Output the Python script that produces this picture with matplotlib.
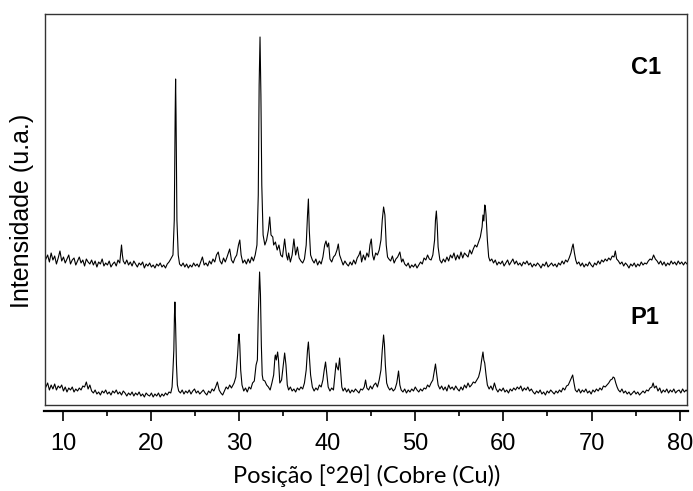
import numpy as np
import matplotlib
matplotlib.use("Agg")
import matplotlib.pyplot as plt

# XRD patterns: (2theta, intensity in a.u.)
c1_pattern = [
    (8.0, 146), (8.2, 150), (8.4, 143), (8.6, 152), (8.8, 145), (9.0, 149), (9.2, 141), (9.4, 147),
    (9.6, 154), (9.8, 144), (10.0, 148), (10.2, 142), (10.4, 146), (10.6, 150), (10.8, 141), (11.0, 145),
    (11.2, 147), (11.4, 140), (11.6, 144), (11.8, 148), (12.0, 142), (12.2, 145), (12.4, 139), (12.6, 146),
    (12.8, 143), (13.0, 141), (13.2, 145), (13.4, 140), (13.6, 144), (13.8, 138), (14.0, 143), (14.2, 141),
    (14.4, 146), (14.6, 139), (14.8, 142), (15.0, 140), (15.2, 144), (15.4, 138), (15.6, 141), (15.8, 143),
    (16.0, 139), (16.2, 145), (16.4, 142), (16.5, 151), (16.6, 160), (16.7, 150), (16.8, 144), (17.0, 141),
    (17.2, 145), (17.4, 140), (17.6, 143), (17.8, 139), (18.0, 144), (18.2, 141), (18.4, 138), (18.6, 142),
    (18.8, 140), (19.0, 143), (19.2, 137), (19.4, 141), (19.6, 139), (19.8, 142), (20.0, 138), (20.2, 140),
    (20.4, 137), (20.6, 141), (20.8, 139), (21.0, 142), (21.2, 138), (21.4, 140), (21.6, 137), (21.8, 141),
    (22.0, 143), (22.2, 146), (22.45, 150), (22.6, 185), (22.7, 290), (22.75, 326), (22.8, 290), (22.9, 185),
    (23.05, 150), (23.2, 141), (23.4, 139), (23.6, 142), (23.8, 138), (24.0, 141), (24.2, 137), (24.4, 140),
    (24.6, 138), (24.8, 142), (25.0, 139), (25.2, 141), (25.4, 138), (25.6, 143), (25.8, 148), (26.0, 140),
    (26.2, 142), (26.4, 139), (26.6, 144), (26.8, 141), (27.0, 146), (27.2, 143), (27.4, 150), (27.6, 153),
    (27.8, 144), (28.0, 141), (28.2, 147), (28.4, 143), (28.6, 148), (28.9, 156), (29.1, 145), (29.3, 142),
    (29.5, 147), (29.7, 150), (29.9, 160), (30.05, 165), (30.2, 150), (30.4, 142), (30.6, 145), (30.8, 141),
    (31.0, 146), (31.2, 142), (31.4, 148), (31.6, 144), (31.8, 150), (32.0, 160), (32.15, 210), (32.25, 320),
    (32.35, 368), (32.45, 310), (32.55, 220), (32.7, 170), (32.9, 160), (33.1, 165), (33.3, 175), (33.45, 188),
    (33.6, 170), (33.8, 168), (33.9, 160), (34.1, 163), (34.3, 155), (34.5, 160), (34.7, 150), (34.9, 148),
    (35.15, 166), (35.35, 150), (35.5, 145), (35.6, 152), (35.8, 143), (36.0, 150), (36.2, 166), (36.4, 150),
    (36.6, 158), (36.8, 147), (37.0, 144), (37.2, 142), (37.4, 146), (37.6, 160), (37.75, 190), (37.85, 206),
    (37.95, 175), (38.1, 150), (38.3, 145), (38.5, 142), (38.7, 146), (38.9, 140), (39.1, 144), (39.3, 141),
    (39.5, 148), (39.7, 160), (39.85, 164), (40.0, 158), (40.15, 162), (40.3, 146), (40.5, 143), (40.7, 148),
    (40.9, 150), (41.1, 155), (41.25, 161), (41.4, 150), (41.6, 145), (41.8, 140), (42.0, 144), (42.2, 141),
    (42.4, 139), (42.6, 143), (42.8, 140), (43.0, 145), (43.2, 141), (43.4, 147), (43.6, 150), (43.75, 154),
    (43.9, 143), (44.1, 150), (44.3, 145), (44.5, 152), (44.7, 148), (44.85, 160), (45.0, 166), (45.15, 150),
    (45.3, 145), (45.5, 152), (45.7, 150), (45.9, 155), (46.1, 165), (46.25, 185), (46.4, 198), (46.55, 190),
    (46.7, 160), (46.85, 148), (47.0, 146), (47.2, 144), (47.4, 149), (47.6, 142), (47.8, 146), (48.0, 148),
    (48.25, 153), (48.45, 143), (48.6, 146), (48.8, 141), (49.0, 139), (49.2, 142), (49.4, 137), (49.6, 140),
    (49.8, 138), (50.0, 141), (50.2, 137), (50.4, 140), (50.6, 143), (50.8, 141), (51.0, 147), (51.2, 145),
    (51.4, 150), (51.6, 146), (51.8, 145), (52.0, 150), (52.2, 165), (52.3, 185), (52.4, 194), (52.5, 180),
    (52.6, 158), (52.8, 145), (53.0, 142), (53.2, 146), (53.4, 143), (53.6, 148), (53.8, 144), (54.0, 150),
    (54.2, 147), (54.4, 152), (54.6, 145), (54.8, 150), (55.0, 146), (55.2, 153), (55.4, 147), (55.6, 152),
    (55.8, 150), (56.0, 148), (56.2, 155), (56.4, 151), (56.6, 156), (56.8, 160), (57.0, 158), (57.2, 163),
    (57.4, 168), (57.6, 178), (57.7, 190), (57.8, 184), (57.9, 200), (57.96, 199), (58.05, 190), (58.2, 165),
    (58.35, 148), (58.5, 144), (58.7, 146), (58.9, 142), (59.1, 145), (59.3, 140), (59.5, 143), (59.7, 141),
    (59.9, 144), (60.1, 139), (60.3, 142), (60.5, 145), (60.7, 140), (60.9, 143), (61.1, 146), (61.3, 141),
    (61.5, 144), (61.7, 140), (61.9, 142), (62.1, 139), (62.3, 143), (62.5, 141), (62.7, 144), (62.9, 140),
    (63.1, 142), (63.3, 138), (63.5, 141), (63.7, 139), (63.9, 142), (64.1, 140), (64.3, 137), (64.5, 141),
    (64.7, 139), (64.9, 143), (65.1, 138), (65.3, 140), (65.5, 142), (65.7, 139), (65.9, 141), (66.1, 138),
    (66.3, 142), (66.5, 140), (66.7, 144), (66.9, 141), (67.1, 145), (67.3, 143), (67.5, 147), (67.7, 152),
    (67.85, 158), (67.95, 161), (68.1, 152), (68.25, 145), (68.4, 141), (68.6, 143), (68.8, 139), (69.0, 142),
    (69.2, 138), (69.4, 141), (69.6, 139), (69.8, 143), (70.0, 140), (70.2, 138), (70.4, 142), (70.6, 140),
    (70.8, 144), (71.0, 141), (71.2, 145), (71.4, 143), (71.6, 146), (71.8, 144), (72.0, 147), (72.2, 145),
    (72.4, 149), (72.6, 148), (72.75, 154), (72.9, 146), (73.1, 144), (73.3, 141), (73.5, 143), (73.7, 139),
    (73.9, 142), (74.1, 140), (74.3, 137), (74.5, 141), (74.7, 139), (74.9, 142), (75.1, 138), (75.3, 141),
    (75.5, 139), (75.7, 143), (75.9, 140), (76.1, 142), (76.3, 141), (76.5, 144), (76.7, 146), (76.9, 145),
    (77.1, 150), (77.3, 146), (77.5, 144), (77.7, 141), (77.9, 144), (78.1, 140), (78.3, 143), (78.5, 139),
    (78.7, 142), (78.9, 140), (79.1, 144), (79.3, 141), (79.5, 143), (79.7, 140), (79.9, 144), (80.1, 141),
    (80.3, 143), (80.5, 140), (80.7, 143), (80.9, 141),
]

p1_pattern = [
    (8.0, 18), (8.2, 22), (8.4, 15), (8.6, 20), (8.8, 16), (9.0, 21), (9.2, 15), (9.4, 19),
    (9.6, 17), (9.8, 20), (10.0, 14), (10.2, 18), (10.4, 13), (10.6, 17), (10.8, 15), (11.0, 18),
    (11.2, 13), (11.4, 16), (11.6, 14), (11.8, 17), (12.0, 15), (12.2, 19), (12.4, 18), (12.6, 23),
    (12.8, 16), (13.0, 20), (13.2, 14), (13.4, 12), (13.6, 15), (13.8, 11), (14.0, 13), (14.2, 10),
    (14.4, 14), (14.6, 12), (14.8, 15), (15.0, 11), (15.2, 13), (15.4, 10), (15.6, 14), (15.8, 12),
    (16.0, 15), (16.2, 11), (16.4, 13), (16.6, 10), (16.8, 14), (17.0, 12), (17.2, 9), (17.4, 12),
    (17.6, 10), (17.8, 13), (18.0, 9), (18.2, 12), (18.4, 10), (18.6, 13), (18.8, 9), (19.0, 11),
    (19.2, 8), (19.4, 12), (19.6, 10), (19.8, 9), (20.0, 12), (20.2, 8), (20.4, 11), (20.6, 9),
    (20.8, 12), (21.0, 8), (21.2, 11), (21.4, 9), (21.6, 12), (21.8, 10), (22.0, 13), (22.2, 12),
    (22.35, 18), (22.45, 35), (22.55, 55), (22.62, 90), (22.67, 103), (22.75, 80), (22.85, 40), (22.95, 20),
    (23.1, 14), (23.3, 12), (23.5, 15), (23.7, 11), (23.9, 14), (24.1, 12), (24.3, 15), (24.5, 11),
    (24.7, 14), (24.9, 16), (25.1, 12), (25.3, 14), (25.5, 11), (25.7, 13), (25.9, 15), (26.1, 12),
    (26.3, 10), (26.5, 14), (26.7, 12), (26.9, 16), (27.1, 14), (27.3, 18), (27.5, 23), (27.7, 15),
    (27.9, 12), (28.1, 10), (28.3, 14), (28.5, 18), (28.7, 16), (28.9, 20), (29.1, 17), (29.4, 22),
    (29.6, 28), (29.8, 50), (29.9, 66), (29.97, 71), (30.05, 60), (30.15, 35), (30.3, 20), (30.5, 14),
    (30.7, 17), (30.9, 13), (31.1, 18), (31.3, 16), (31.5, 22), (31.7, 24), (31.9, 40), (32.05, 45),
    (32.15, 90), (32.25, 120), (32.3, 133), (32.4, 110), (32.5, 60), (32.6, 30), (32.7, 25), (32.9, 24),
    (33.1, 20), (33.3, 18), (33.5, 15), (33.7, 22), (33.9, 30), (34.05, 48), (34.1, 50), (34.2, 45),
    (34.35, 53), (34.45, 45), (34.6, 22), (34.8, 25), (35.0, 40), (35.15, 52), (35.3, 40), (35.45, 20),
    (35.6, 15), (35.8, 18), (36.0, 14), (36.2, 16), (36.4, 13), (36.6, 17), (36.8, 15), (37.0, 18),
    (37.2, 16), (37.4, 22), (37.6, 35), (37.75, 55), (37.85, 63), (37.95, 50), (38.1, 30), (38.3, 18),
    (38.5, 14), (38.7, 17), (38.9, 15), (39.1, 20), (39.3, 18), (39.5, 25), (39.65, 35), (39.8, 43),
    (39.95, 30), (40.1, 18), (40.3, 14), (40.5, 17), (40.7, 15), (40.85, 28), (41.0, 42), (41.1, 38),
    (41.25, 35), (41.4, 47), (41.5, 35), (41.65, 18), (41.8, 14), (42.0, 17), (42.2, 13), (42.4, 16),
    (42.6, 12), (42.8, 15), (43.0, 13), (43.2, 16), (43.4, 14), (43.6, 12), (43.8, 16), (44.0, 15),
    (44.2, 18), (44.35, 25), (44.5, 17), (44.7, 15), (44.9, 19), (45.1, 16), (45.3, 20), (45.5, 22),
    (45.7, 18), (45.9, 25), (46.1, 35), (46.25, 55), (46.4, 70), (46.5, 60), (46.6, 40), (46.75, 22),
    (46.9, 18), (47.1, 15), (47.3, 17), (47.5, 14), (47.7, 16), (47.9, 22), (48.1, 34), (48.25, 20),
    (48.4, 15), (48.6, 13), (48.8, 16), (49.0, 12), (49.2, 15), (49.4, 13), (49.6, 16), (49.8, 14),
    (50.0, 18), (50.2, 15), (50.4, 13), (50.6, 16), (50.8, 14), (51.0, 17), (51.2, 16), (51.4, 20),
    (51.6, 18), (51.8, 22), (52.0, 25), (52.15, 33), (52.3, 41), (52.45, 30), (52.6, 20), (52.8, 16),
    (53.0, 19), (53.2, 15), (53.4, 18), (53.6, 14), (53.8, 20), (54.0, 16), (54.2, 18), (54.4, 15),
    (54.6, 19), (54.8, 16), (55.0, 14), (55.2, 18), (55.4, 15), (55.6, 20), (55.8, 17), (56.0, 22),
    (56.2, 18), (56.4, 20), (56.6, 23), (56.8, 22), (57.0, 25), (57.2, 28), (57.4, 35), (57.55, 45),
    (57.7, 53), (57.8, 45), (57.9, 42), (58.05, 30), (58.2, 20), (58.4, 16), (58.6, 19), (58.8, 15),
    (59.0, 22), (59.2, 16), (59.4, 13), (59.6, 16), (59.8, 14), (60.0, 17), (60.2, 13), (60.4, 15),
    (60.6, 12), (60.8, 16), (61.0, 14), (61.2, 17), (61.4, 15), (61.6, 18), (61.8, 16), (62.0, 19),
    (62.2, 14), (62.4, 17), (62.6, 15), (62.8, 18), (63.0, 14), (63.2, 16), (63.4, 13), (63.6, 11),
    (63.8, 14), (64.0, 12), (64.2, 15), (64.4, 11), (64.6, 13), (64.8, 10), (65.0, 14), (65.2, 12),
    (65.4, 15), (65.6, 13), (65.8, 11), (66.0, 14), (66.2, 12), (66.4, 15), (66.6, 13), (66.8, 17),
    (67.0, 15), (67.2, 19), (67.4, 20), (67.6, 24), (67.75, 27), (67.9, 30), (68.05, 22), (68.2, 15),
    (68.4, 13), (68.6, 16), (68.8, 12), (69.0, 15), (69.2, 13), (69.4, 16), (69.6, 12), (69.8, 14),
    (70.0, 11), (70.2, 15), (70.4, 13), (70.6, 16), (70.8, 14), (71.0, 17), (71.2, 15), (71.4, 19),
    (71.6, 18), (71.8, 20), (72.0, 22), (72.2, 25), (72.4, 26), (72.5, 28), (72.65, 27), (72.8, 22),
    (72.95, 18), (73.1, 15), (73.3, 13), (73.5, 16), (73.7, 12), (73.9, 14), (74.1, 11), (74.3, 13),
    (74.5, 10), (74.7, 12), (74.9, 14), (75.1, 11), (75.3, 13), (75.5, 10), (75.7, 12), (75.9, 14),
    (76.1, 12), (76.3, 15), (76.5, 14), (76.7, 17), (76.9, 18), (77.05, 22), (77.2, 17), (77.4, 19),
    (77.6, 14), (77.8, 17), (78.0, 12), (78.2, 15), (78.4, 13), (78.6, 16), (78.8, 12), (79.0, 15),
    (79.2, 13), (79.4, 16), (79.6, 12), (79.8, 14), (80.0, 15), (80.2, 12), (80.4, 16), (80.6, 13),
    (80.8, 15), (80.9, 14),
]

sample_labels = ["C1", "P1"]
x_ticks = [10, 20, 30, 40, 50, 60, 70, 80]
x_minor = [15, 25, 35, 45, 55, 65, 75]

W, H = 693, 491
fig = plt.figure(figsize=(W / 100, H / 100), dpi=100)

# plot box (pixel coords of the reference)
left, right, top, bottom = 45, 687, 14, 405
ax = fig.add_axes([left / W, 1 - bottom / H, (right - left) / W, (bottom - top) / H])

c1 = np.array(c1_pattern)
p1 = np.array(p1_pattern)
ax.plot(c1[:, 0], c1[:, 1], color="black", lw=0.8)
ax.plot(p1[:, 0], p1[:, 1], color="black", lw=0.8)

ax.set_xlim(7.9, 80.9)
ax.set_ylim(0, 391)
ax.set_xticks([])
ax.set_yticks([])
for s in ax.spines.values():
    s.set_linewidth(1.0)
    s.set_color("#333333")

lab_font = dict(family=["Liberation Sans", "DejaVu Sans"], fontsize=17, fontweight="bold")
fig.text(646 / W, 1 - 67 / H, sample_labels[0], ha="center", va="center", **lab_font)
fig.text(645 / W, 1 - 317 / H, sample_labels[1], ha="center", va="center", **lab_font)

# detached x axis below the box
axx = fig.add_axes([44 / W, 1 - 411 / H, (688 - 44) / W, 0.0001])
axx.set_xlim(7.85, 80.95)
axx.set_yticks([])
for k in ["top", "left", "right"]:
    axx.spines[k].set_visible(False)
axx.spines["bottom"].set_linewidth(1.6)
axx.set_xticks(x_ticks)
axx.set_xticks(x_minor, minor=True)
axx.tick_params(axis="x", which="major", direction="out", length=7, width=1.2, pad=9)
axx.tick_params(axis="x", which="minor", direction="out", length=3.5, width=1.2)
for t in axx.get_xticklabels():
    t.set_fontfamily(["Liberation Sans Narrow", "Liberation Sans"])
    t.set_fontsize(17)

fig.text(367 / W, 1 - 476 / H, "Posição [°2θ] (Cobre (Cu))",
         ha="center", va="center", fontsize=17, family=["Lato", "DejaVu Sans"])
fig.text(22 / W, 1 - 211 / H, "Intensidade (u.a.)", rotation=90,
         ha="center", va="center", fontsize=18, family=["Liberation Sans", "DejaVu Sans"])

fig.savefig("out.png", dpi=100)
